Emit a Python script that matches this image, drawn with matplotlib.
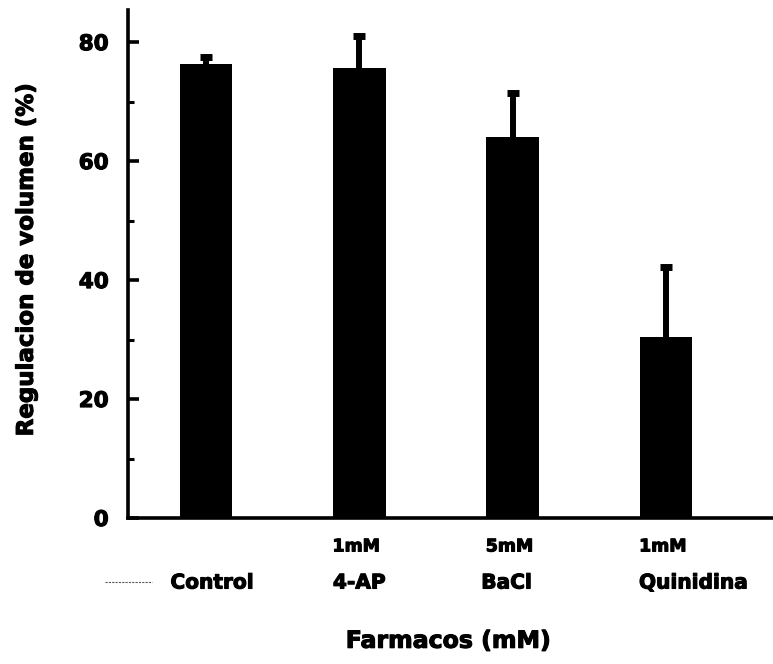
import matplotlib
matplotlib.use("Agg")
import matplotlib.pyplot as plt
import matplotlib.patheffects as pe
from matplotlib.ticker import MultipleLocator

# mean volume regulation (%) and upper error per drug
farmacos = ["Control", "4-AP", "BaCl", "Quinidina"]
dosis = ["", "1mM", "5mM", "1mM"]
regulacion = [76.3, 75.6, 64.0, 30.4]
error_sup = [1.2, 5.4, 7.4, 11.8]

plt.rc("font", family="DejaVu Sans", weight="bold")
grueso = [pe.withStroke(linewidth=0.8, foreground="black")]

fig = plt.figure(figsize=(7.73, 6.64), dpi=100)
ax = fig.add_axes([0.1656, 0.2199, 0.8344, 0.765])

x = list(range(len(farmacos)))
ax.bar(x, regulacion, width=0.345, color="black", zorder=2)
_, caps, _ = ax.errorbar(x, regulacion, yerr=[[0] * len(x), error_sup],
                         fmt="none", ecolor="black", elinewidth=4.3,
                         capsize=4.3, capthick=5, zorder=3)
# only the upper cap is drawn
caps[0].set_visible(False)

ax.set_xlim(-0.509, 3.698)
ax.set_ylim(0, 85.4)

for side in ("top", "right"):
    ax.spines[side].set_visible(False)
for side in ("left", "bottom"):
    ax.spines[side].set_linewidth(2.6)

ax.yaxis.set_major_locator(MultipleLocator(20))
ax.yaxis.set_minor_locator(MultipleLocator(10))
ax.tick_params(axis="y", which="major", direction="in", length=8, width=2.6,
               labelsize=15.5, pad=14)
ax.tick_params(axis="y", which="minor", direction="in", length=4, width=2.2)
for lbl in ax.get_yticklabels():
    lbl.set_path_effects(grueso)
ax.set_xticks([])

# drug names with their concentration above
name_dx = [0.04, 0.0, -0.04, 0.18]
for i, (nombre, d) in enumerate(zip(farmacos, dosis)):
    ax.text(i + name_dx[i], -0.128, nombre, transform=ax.get_xaxis_transform(),
            ha="center", va="center", fontsize=14.5, path_effects=grueso)
    if d:
        ax.text(i - 0.02, -0.056, d, transform=ax.get_xaxis_transform(),
                ha="center", va="center", fontsize=12.5, path_effects=grueso)

# faint dotted stroke left of the first label
ax.plot([-0.66, -0.35], [-0.127, -0.127], transform=ax.get_xaxis_transform(),
        color="0.35", lw=0.8, ls=(0, (2, 1)), clip_on=False)

fig.text(0.580, 0.035, "Farmacos (mM)", ha="center", va="center",
         fontsize=17, path_effects=grueso)
fig.text(0.034, 0.608, "Regulacion de volumen (%)", rotation=90,
         ha="center", va="center", fontsize=16.5, path_effects=grueso)

fig.savefig("out.png", dpi=100)
